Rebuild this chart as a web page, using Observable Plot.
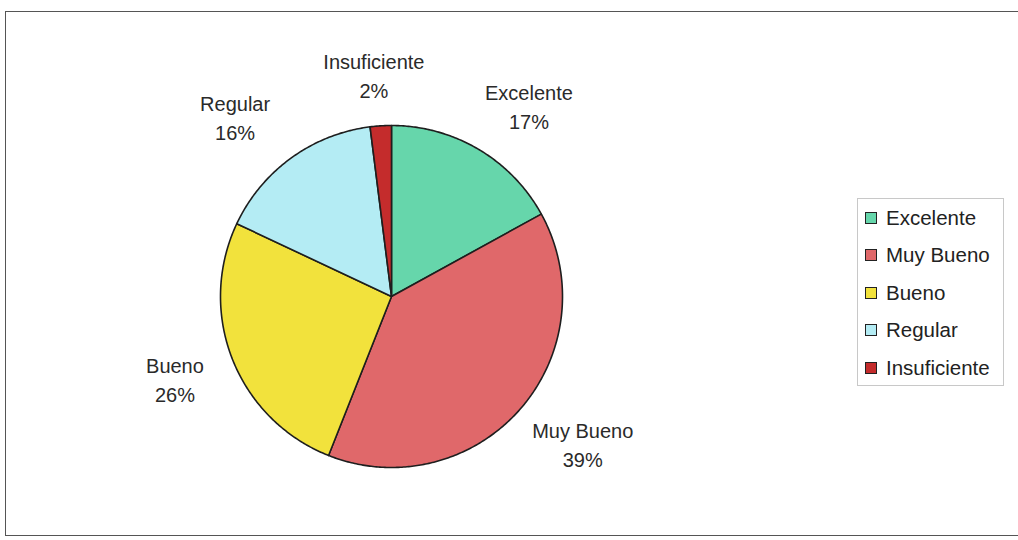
<!DOCTYPE html>
<html>
<head>
<meta charset="utf-8">
<script src="https://cdn.jsdelivr.net/npm/d3@7"></script>
<script src="https://cdn.jsdelivr.net/npm/@observablehq/plot@0.6"></script>
<style>
  html, body { margin: 0; padding: 0; background: #fff; }
  body { width: 1018px; height: 540px; overflow: hidden; position: relative; font-family: "Liberation Sans", Arial, sans-serif; }
  #frame { position: absolute; left: 5px; top: 11px; width: 1030px; height: 525px; border: 1.5px solid #555; box-sizing: border-box; }
  #chart { position: absolute; left: 0; top: 0; }
  #legend { position: absolute; left: 857px; top: 198px; width: 147px; height: 188px; border: 1px solid #c8c8c8; box-sizing: border-box; padding-top: 0px; }
  .item { display: flex; align-items: center; height: 37.5px; font-size: 20.5px; color: #222; white-space: nowrap; }
  .sw { width: 10px; height: 10px; border: 1px solid #222; margin-left: 7px; margin-right: 9px; flex: none; }
</style>
</head>
<body>
<div id="frame"></div>
<div id="chart"></div>
<div id="legend"></div>
<script>
const categories = ["Excelente", "Muy Bueno", "Bueno", "Regular", "Insuficiente"];
const percents = [17, 39, 26, 16, 2];
const colors = ["#66d6ab", "#e0686a", "#f2e23c", "#b4ecf4", "#c42c2c"];

const W = 1018, H = 540, cx = 391, cy = 296, R = 171;

const pie = d3.pie().sort(null).value(d => d.value);
const arcs = pie(categories.map((c, i) => ({cat: c, value: percents[i]})));

// polygon outlines for each slice (unit-radius coordinates, angle clockwise from 12 o'clock)
const slicePts = [];
for (const a of arcs) {
  const n = Math.max(4, Math.ceil((a.endAngle - a.startAngle) / 0.01));
  slicePts.push({cat: a.data.cat, x: 0, y: 0});
  for (let k = 0; k <= n; k++) {
    const t = a.startAngle + (a.endAngle - a.startAngle) * k / n;
    slicePts.push({cat: a.data.cat, x: Math.sin(t), y: -Math.cos(t)});
  }
  slicePts.push({cat: a.data.cat, x: 0, y: 0});
}

// outside labels: pushed further out horizontally near the top/bottom to clear the pie
const labels = arcs.map(a => {
  const m = (a.startAngle + a.endAngle) / 2;
  const s = Math.sin(m), c = Math.cos(m);
  return {cat: a.data.cat, x: s * (1.2 + 0.44 * Math.abs(c)), y: -1.3 * c, text: `${a.data.cat}\n${a.data.value}%`};
});

const chart = Plot.plot({
  width: W, height: H,
  margin: 0,
  x: {domain: [-cx / R, (W - cx) / R], range: [0, W], axis: null},
  y: {domain: [-cy / R, (H - cy) / R], range: [0, H], axis: null},
  color: {domain: categories, range: colors},
  style: {background: "transparent", fontFamily: "'Liberation Sans', Arial, sans-serif"},
  marks: [
    Plot.line(slicePts, {x: "x", y: "y", z: "cat", fill: "cat", stroke: "#1e1e1e", strokeWidth: 1.6, strokeLinejoin: "round", curve: "linear"}),
    Plot.text(labels, {x: "x", y: "y", text: "text", fontSize: 20, fill: "#2a2a2a", lineHeight: 1.45, textAnchor: "middle"})
  ]
});
document.getElementById("chart").appendChild(chart);

const legend = document.getElementById("legend");
categories.forEach((c, i) => {
  const it = document.createElement("div");
  it.className = "item";
  const sw = document.createElement("span");
  sw.className = "sw";
  sw.style.background = colors[i];
  const tx = document.createElement("span");
  tx.textContent = c;
  it.appendChild(sw); it.appendChild(tx);
  legend.appendChild(it);
});
</script>
</body>
</html>
